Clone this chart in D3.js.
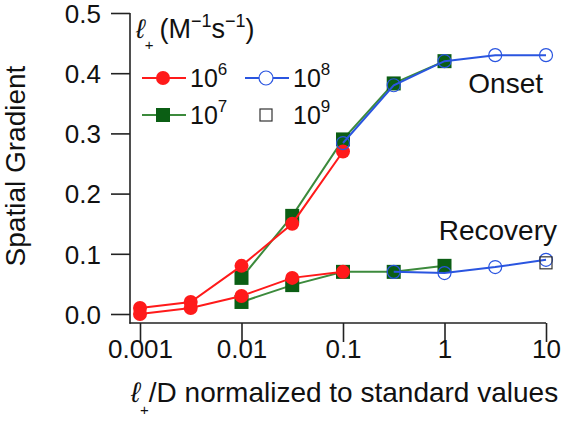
<!DOCTYPE html>
<html><head><meta charset="utf-8">
<script src="https://cdn.jsdelivr.net/npm/d3@7"></script>
<style>
body{margin:0;background:#fff;}
text{font-family:"Liberation Sans",Arial,Helvetica,sans-serif;fill:#111;}
</style></head>
<body>
<svg id="chart" width="562" height="421"></svg>
<script>
// ---- data ----
const xTicks = [0.001, 0.01, 0.1, 1, 10];
const xTickLabels = ["0.001", "0.01", "0.1", "1", "10"];
const yTicks = [0.0, 0.1, 0.2, 0.3, 0.4, 0.5];
const yTickLabels = ["0.0", "0.1", "0.2", "0.3", "0.4", "0.5"];

const xRed = [0.001, 0.00316, 0.01, 0.0316, 0.1];
const redOnset = [0.01, 0.02, 0.08, 0.15, 0.27];
const redRecovery = [0.0, 0.01, 0.03, 0.06, 0.07];

const xGreen = [0.01, 0.0316, 0.1, 0.316, 1];
const greenOnset = [0.06, 0.163, 0.29, 0.383, 0.42];
const greenRecovery = [0.02, 0.048, 0.07, 0.07, 0.08];

const xBlueOnset = [0.1, 0.316, 1, 3.16, 10];
const blueOnset = [0.284, 0.38, 0.42, 0.43, 0.43];
const xBlueRecovery = [0.316, 1, 3.16, 10];
const blueRecovery = [0.07, 0.068, 0.078, 0.09];

const xBlack = [10];
const blackOnset = [0.438];
const blackRecovery = [0.085];

const legendLabels = ["6", "7", "8", "9"];

// ---- chart ----
const svg = d3.select("#chart");
const x = d3.scaleLog().domain([0.001, 10]).range([140, 546]);
const y = d3.scaleLinear().domain([0, 0.5]).range([314, 13]);
const axisColor = "#222";

// axes
const xAxis = d3.axisBottom(x).tickValues(xTicks).tickFormat((d, i) => xTickLabels[i]).tickSize(19).tickSizeOuter(0);
const gx = svg.append("g").attr("transform", "translate(0,323)").call(xAxis);
gx.select(".domain").remove();
gx.append("line").attr("x1", 129.5).attr("x2", 546).attr("y1", 0).attr("y2", 0).attr("stroke", axisColor).attr("stroke-width", 1.6);
gx.selectAll(".tick line").attr("stroke", axisColor).attr("stroke-width", 1.6);
gx.selectAll(".tick text").attr("font-size", 26).attr("dy", "0.2em").attr("y", 30).style("fill", "#111");

const yAxis = d3.axisLeft(y).tickValues(yTicks).tickFormat((d, i) => yTickLabels[i]).tickSize(19).tickSizeOuter(0);
const gy = svg.append("g").attr("transform", "translate(130,0)").call(yAxis);
gy.select(".domain").remove();
gy.append("line").attr("x1", 0).attr("x2", 0).attr("y1", 13).attr("y2", 323.8).attr("stroke", axisColor).attr("stroke-width", 1.6);
gy.selectAll(".tick line").attr("stroke", axisColor).attr("stroke-width", 1.6);
gy.selectAll(".tick text").attr("font-size", 26).attr("x", -29).attr("dy", "0.36em").style("fill", "#111");

// axis titles
svg.append("text").attr("transform", "translate(25,166) rotate(-90)").attr("text-anchor", "middle")
  .attr("font-size", 28).text("Spatial Gradient");

const xt = svg.append("text").attr("x", 131).attr("y", 402).attr("font-size", 28);
xt.append("tspan").attr("font-style", "italic").text("ℓ");
xt.append("tspan").attr("font-size", 15).attr("dy", 13).attr("dx", 0).text("+");
xt.append("tspan").attr("dy", -13).attr("dx", 0).text("/D normalized to standard values");

// series
const line = d3.line().x(d => x(d[0])).y(d => y(d[1]));
function series(xs, ys, color, lw, marker, mcolor, filled) {
  const pts = xs.map((v, i) => [v, ys[i]]);
  const g = svg.append("g");
  g.append("path").datum(pts).attr("d", line).attr("fill", "none").attr("stroke", color).attr("stroke-width", lw);
  drawMarkers(g, pts, marker, mcolor, filled);
}
function drawMarkers(g, pts, marker, mcolor, filled) {
  if (marker === "circle") {
    g.selectAll("circle.m").data(pts).join("circle").attr("class", "m")
      .attr("cx", d => x(d[0])).attr("cy", d => y(d[1])).attr("r", filled ? 7 : 6.5)
      .attr("fill", filled ? mcolor : "none").attr("stroke", mcolor).attr("stroke-width", filled ? 0 : 1.2);
  } else {
    const s = filled ? 14 : 12;
    g.selectAll("rect.m").data(pts).join("rect").attr("class", "m")
      .attr("x", d => x(d[0]) - s / 2).attr("y", d => y(d[1]) - s / 2).attr("width", s).attr("height", s)
      .attr("fill", filled ? mcolor : "none").attr("stroke", mcolor).attr("stroke-width", filled ? 0 : 1.2);
  }
}
const green = "#3c8a3c", greenM = "#0b5e14", red = "#ff1a1a", blue = "#2a55e0", black = "#333";

series(xGreen, greenOnset, green, 2, "square", greenM, true);
series(xGreen, greenRecovery, green, 2, "square", greenM, true);
series(xRed, redOnset, red, 2, "circle", red, true);
series(xRed, redRecovery, red, 2, "circle", red, true);
series(xBlueOnset, blueOnset, blue, 2, "circle", blue, false);
series(xBlueRecovery, blueRecovery, blue, 2, "circle", blue, false);
{
  const g = svg.append("g");
  drawMarkers(g, xBlack.map((v, i) => [v, blackOnset[i]]), "square", black, false);
  drawMarkers(g, xBlack.map((v, i) => [v, blackRecovery[i]]), "square", black, false);
}

// annotations
svg.append("text").attr("x", 543).attr("y", 93).attr("text-anchor", "end").attr("font-size", 28).text("Onset");
svg.append("text").attr("x", 557).attr("y", 240).attr("text-anchor", "end").attr("font-size", 28).text("Recovery");

// legend
const lt = svg.append("text").attr("x", 136).attr("y", 38).attr("font-size", 27);
lt.append("tspan").attr("font-style", "italic").text("ℓ");
lt.append("tspan").attr("font-size", 15).attr("dy", 12).attr("dx", 0).text("+");
lt.append("tspan").attr("dy", -12).attr("dx", 6).text("(M");
lt.append("tspan").attr("font-size", 18).attr("dy", -11).text("−1");
lt.append("tspan").attr("dy", 11).text("s");
lt.append("tspan").attr("font-size", 18).attr("dy", -11).text("−1");
lt.append("tspan").attr("dy", 11).text(")");

const legendItems = [
  {lx: 142, cy: 78, color: red, marker: "circle", mcolor: red, filled: true, line: true},
  {lx: 142, cy: 115, color: green, marker: "square", mcolor: greenM, filled: true, line: true},
  {lx: 245, cy: 78, color: blue, marker: "circle", mcolor: blue, filled: false, line: true},
  {lx: 245, cy: 115, color: black, marker: "square", mcolor: black, filled: false, line: false}
];
const legendOrder = [0, 1, 2, 3];
legendItems.forEach((it, i) => {
  const g = svg.append("g");
  if (it.line) g.append("line").attr("x1", it.lx).attr("x2", it.lx + 44).attr("y1", it.cy).attr("y2", it.cy)
    .attr("stroke", it.color).attr("stroke-width", 2);
  const mx = it.lx + 21;
  if (it.marker === "circle") {
    g.append("circle").attr("cx", mx).attr("cy", it.cy).attr("r", 7)
      .attr("fill", it.filled ? it.mcolor : "#fff").attr("stroke", it.mcolor).attr("stroke-width", it.filled ? 0 : 1.2);
  } else {
    const s = it.filled ? 14 : 12;
    g.append("rect").attr("x", mx - s / 2).attr("y", it.cy - s / 2).attr("width", s).attr("height", s)
      .attr("fill", it.filled ? it.mcolor : "#fff").attr("stroke", it.mcolor).attr("stroke-width", it.filled ? 0 : 1.2);
  }
  const t = g.append("text").attr("x", it.lx + 48).attr("y", it.cy + 9).attr("font-size", 25);
  t.append("tspan").text("10");
  t.append("tspan").attr("font-size", 17).attr("dy", -12).text(legendLabels[legendOrder[i]]);
});
</script>
</body></html>
